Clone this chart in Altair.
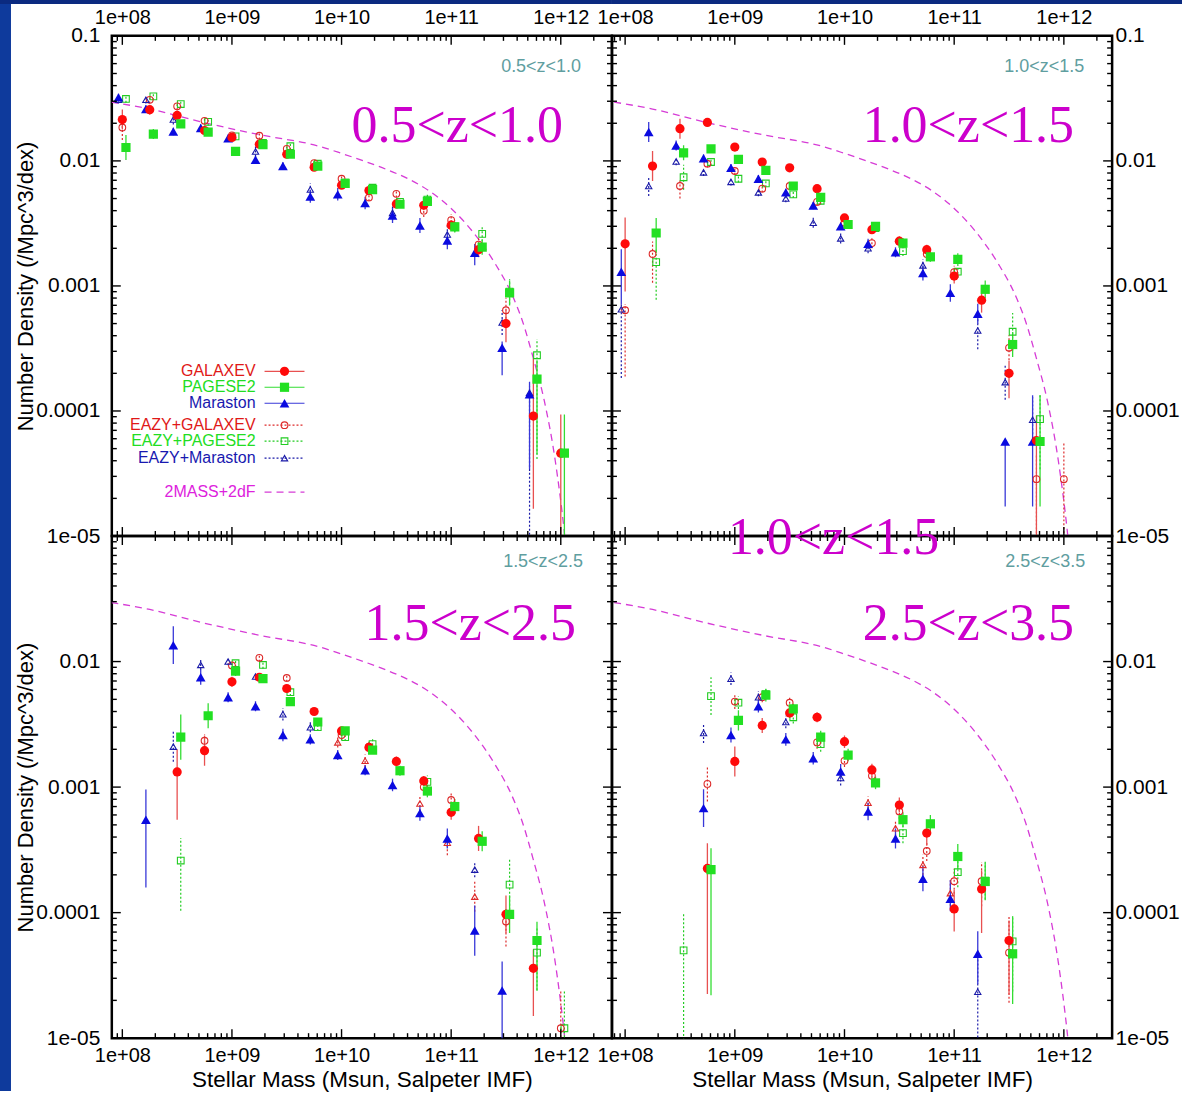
import altair as alt
import pandas as pd

# ---------------------------------------------------------------- data
# 2MASS+2dF local stellar mass function (dashed curve)
smf_logm = [7.90, 8.25, 8.70, 9.25, 9.80, 10.00, 10.20, 10.40, 10.60, 10.80, 11.00, 11.20,
            11.40, 11.55, 11.65, 11.75, 11.85, 11.95, 12.03, 12.07]
smf_logphi = [-1.530, -1.585, -1.684, -1.790, -1.884, -1.940, -2.000, -2.065, -2.140, -2.240,
              -2.380, -2.570, -2.820, -3.060, -3.280, -3.580, -3.920, -4.400, -4.950, -5.300]

# each entry: (log10 M bin, number density, error down [dex], error up [dex])
# ---- 0.5<z<1.0
tl_galaxev = [(8.00, 0.0214, .08, .08), (8.25, 0.0257, .04, .04), (8.50, 0.0231, .04, .04),
              (8.75, 0.0175, .04, .04), (9.00, 0.0154, .03, .03), (9.25, 0.0136, .03, .03),
              (9.50, 0.0113, .03, .03), (9.75, 0.0089, .03, .03), (10.00, 0.0064, .03, .03),
              (10.25, 0.0058, .03, .03), (10.50, 0.00453, .03, .03), (10.75, 0.00442, .04, .04),
              (11.00, 0.00306, .04, .04), (11.25, 0.00195, .06, .06), (11.50, 0.00050, .15, .11),
              (11.75, 0.000091, .74, .46), (12.00, 0.000046, 1.2, .31)]
tl_pegase = [(8.00, 0.0128, .10, .10), (8.25, 0.0164, .04, .04), (8.50, 0.0198, .03, .03),
             (8.75, 0.0170, .03, .03), (9.00, 0.0119, .03, .03), (9.25, 0.0135, .03, .03),
             (9.50, 0.0113, .03, .03), (9.75, 0.0091, .03, .03), (10.00, 0.0066, .03, .03),
             (10.25, 0.0059, .03, .03), (10.50, 0.0045, .03, .03), (10.75, 0.00475, .04, .04),
             (11.00, 0.00297, .04, .04), (11.25, 0.00204, .06, .06), (11.50, 0.00088, .10, .10),
             (11.75, 0.00018, .60, .15), (12.00, 0.000046, 1.2, .31)]
tl_maraston = [(8.00, 0.0322, .03, .03), (8.25, 0.0260, .03, .03), (8.50, 0.0172, .03, .03),
               (8.75, 0.0183, .03, .03), (9.00, 0.0152, .03, .03), (9.25, 0.0102, .03, .03),
               (9.50, 0.0091, .03, .03), (9.75, 0.0052, .05, .05), (10.00, 0.0054, .05, .05),
               (10.25, 0.0046, .05, .05), (10.50, 0.00366, .06, .06), (10.75, 0.00304, .06, .06),
               (11.00, 0.00231, .07, .07), (11.25, 0.00184, .10, .07), (11.50, 0.00032, .22, .05),
               (11.75, 0.000136, .60, .10)]
tl_eazy_galaxev = [(8.00, 0.0185, .10, .05), (8.25, 0.0308, .03, .03), (8.50, 0.0273, .03, .03),
                   (8.75, 0.0209, .03, .03), (9.00, 0.0160, .03, .03), (9.25, 0.0159, .03, .03),
                   (9.50, 0.0125, .03, .03), (9.75, 0.0096, .03, .03), (10.00, 0.0072, .03, .03),
                   (10.25, 0.0051, .03, .03), (10.50, 0.00545, .03, .03), (10.75, 0.0040, .05, .05),
                   (11.00, 0.00336, .05, .05), (11.25, 0.00214, .06, .06), (11.50, 0.00064, .10, .10)]
tl_eazy_pegase = [(8.00, 0.0313, .03, .03), (8.25, 0.0328, .03, .03), (8.50, 0.0285, .03, .03),
                  (8.75, 0.0205, .03, .03), (9.00, 0.0157, .03, .03), (9.25, 0.0139, .03, .03),
                  (9.50, 0.0131, .03, .03), (9.75, 0.0095, .03, .03), (10.00, 0.0067, .03, .03),
                  (10.25, 0.0061, .03, .03), (10.50, 0.0047, .03, .03), (10.75, 0.0049, .04, .04),
                  (11.00, 0.0030, .05, .05), (11.25, 0.00261, .06, .06), (11.50, 0.0009, .10, .10),
                  (11.75, 0.000279, .83, .13)]
tl_eazy_maraston = [(8.00, 0.0308, .03, .03), (8.25, 0.0308, .03, .03), (8.50, 0.0214, .04, .04),
                    (9.25, 0.0119, .04, .04), (9.75, 0.0059, .05, .05), (10.50, 0.00384, .06, .06),
                    (11.00, 0.00258, .07, .07), (11.50, 0.00051, .10, .10), (11.75, 0.00014, 1.2, .05)]
tl_eazy_red_tri = []

# ---- 1.0<z<1.5
tr_galaxev = [(8.00, 0.00217, .38, .21), (8.25, 0.0091, .12, .12), (8.50, 0.0181, .08, .08),
              (8.75, 0.0203, .03, .03), (9.00, 0.0129, .03, .03), (9.25, 0.0098, .03, .03),
              (9.50, 0.0088, .03, .03), (9.75, 0.0060, .03, .03), (10.00, 0.0035, .03, .03),
              (10.25, 0.00282, .03, .03), (10.50, 0.00228, .04, .04), (10.75, 0.00195, .04, .04),
              (11.00, 0.0012, .06, .06), (11.25, 0.00077, .10, .10), (11.50, 0.0002, .20, .10),
              (11.75, 0.000058, .76, .20)]
tr_pegase = [(8.25, 0.00265, .16, .12), (8.50, 0.0116, .06, .06), (8.75, 0.0125, .03, .03),
             (9.00, 0.0103, .03, .03), (9.25, 0.0084, .03, .03), (9.50, 0.0063, .03, .03),
             (9.75, 0.0051, .03, .03), (10.00, 0.0031, .03, .03), (10.25, 0.0030, .03, .03),
             (10.50, 0.0022, .04, .04), (10.75, 0.00171, .04, .04), (11.00, 0.00163, .05, .05),
             (11.25, 0.00094, .07, .07), (11.50, 0.00034, .10, .10), (11.75, 0.000057, .52, .37)]
tr_maraston = [(8.00, 0.0013, .26, .18), (8.25, 0.0170, .08, .08), (8.50, 0.0133, .04, .04),
               (8.75, 0.0105, .03, .03), (9.00, 0.0088, .03, .03), (9.25, 0.0072, .03, .03),
               (9.50, 0.0056, .03, .03), (9.75, 0.0044, .03, .03), (10.00, 0.0030, .03, .03),
               (10.25, 0.00217, .04, .04), (10.50, 0.00186, .04, .04), (10.75, 0.00127, .06, .06),
               (11.00, 0.00088, .07, .07), (11.25, 0.0006, .08, .08), (11.50, 0.000057, .52, .0),
               (11.75, 0.000057, .52, .37)]
tr_eazy_galaxev = [(8.00, 0.00064, .53, .05), (8.25, 0.0018, .23, .10), (8.50, 0.0063, .10, .05),
                   (8.75, 0.0095, .03, .03), (9.00, 0.0083, .03, .03), (9.25, 0.0060, .03, .03),
                   (9.50, 0.0063, .03, .03), (9.75, 0.0047, .03, .03), (10.00, 0.0032, .03, .03),
                   (10.25, 0.0022, .04, .04), (10.75, 0.0018, .04, .04), (11.00, 0.00129, .05, .05),
                   (11.50, 0.00032, .10, .10), (11.75, 0.0000285, 1.2, .20), (12.00, 0.0000285, 1.2, .30)]
tr_eazy_pegase = [(8.25, 0.00155, .30, .10), (8.50, 0.0074, .10, .10), (8.75, 0.0098, .03, .03),
                  (9.00, 0.0072, .03, .03), (9.25, 0.0066, .03, .03), (9.50, 0.0054, .03, .03),
                  (9.75, 0.0048, .03, .03), (10.25, 0.0029, .03, .03), (10.50, 0.0019, .04, .04),
                  (11.00, 0.0013, .05, .05), (11.50, 0.00043, .15, .15), (11.75, 0.000086, .40, .20)]
tr_eazy_maraston = [(8.00, 0.00065, .55, .05), (8.25, 0.0063, .08, .08), (8.50, 0.0099, .03, .03),
                    (8.75, 0.0081, .03, .03), (9.00, 0.0068, .03, .03), (9.25, 0.0056, .03, .03),
                    (9.50, 0.0050, .03, .03), (9.75, 0.0032, .04, .04), (10.00, 0.0024, .04, .04),
                    (10.25, 0.0020, .04, .04), (10.75, 0.00146, .05, .05), (11.25, 0.00044, .15, .10),
                    (11.50, 0.00017, .14, .14), (11.75, 0.000085, .18, .18)]
tr_eazy_red_tri = []

# ---- 1.5<z<2.5
bl_galaxev = [(8.50, 0.00132, .38, .18), (8.75, 0.00195, .12, .12), (9.00, 0.0069, .04, .04),
              (9.25, 0.0075, .03, .03), (9.50, 0.0061, .03, .03), (9.75, 0.0040, .03, .03),
              (10.00, 0.0028, .03, .03), (10.25, 0.00207, .03, .03), (10.50, 0.0016, .04, .04),
              (10.75, 0.00112, .04, .04), (11.00, 0.00063, .06, .06), (11.25, 0.00039, .10, .10),
              (11.50, 0.000097, .15, .15), (11.75, 0.000036, .38, .15)]
bl_pegase = [(8.50, 0.0025, .18, .18), (8.75, 0.0037, .10, .10), (9.00, 0.0084, .04, .04),
             (9.25, 0.0073, .03, .03), (9.50, 0.0048, .03, .03), (9.75, 0.0033, .03, .03),
             (10.00, 0.0028, .03, .03), (10.25, 0.00197, .03, .03), (10.50, 0.00135, .04, .04),
             (10.75, 0.00093, .05, .05), (11.00, 0.0007, .06, .06), (11.25, 0.00037, .08, .08),
             (11.50, 0.000097, .15, .15), (11.75, 0.00006, .40, .15)]
bl_maraston = [(8.25, 0.00055, .54, .24), (8.50, 0.0135, .15, .15), (8.75, 0.0075, .06, .06),
               (9.00, 0.0052, .04, .04), (9.25, 0.0044, .04, .04), (9.50, 0.0026, .05, .05),
               (9.75, 0.0024, .04, .04), (10.00, 0.0018, .04, .04), (10.25, 0.00136, .04, .04),
               (10.50, 0.00104, .05, .05), (10.75, 0.00062, .06, .06), (11.00, 0.00039, .08, .08),
               (11.25, 0.000072, .20, .20), (11.50, 0.000024, 1.0, .23)]
bl_eazy_galaxev = [(8.75, 0.00234, .05, .05), (9.00, 0.0093, .03, .03), (9.25, 0.0107, .03, .03),
                   (9.50, 0.0074, .03, .03), (10.00, 0.0026, .04, .04), (10.25, 0.0021, .04, .04),
                   (10.75, 0.0010, .05, .05), (11.00, 0.00079, .06, .06), (11.50, 0.000085, .20, .10),
                   (12.00, 0.000012, .20, .30)]
bl_eazy_pegase = [(8.50, 0.00026, .40, .18), (9.00, 0.0097, .03, .03), (9.25, 0.0094, .03, .03),
                  (9.50, 0.0057, .03, .03), (9.75, 0.0030, .03, .03), (10.00, 0.0025, .03, .03),
                  (10.25, 0.0022, .04, .04), (10.75, 0.0011, .05, .05), (11.50, 0.000167, .20, .20),
                  (11.75, 0.000048, .30, .20), (12.00, 0.000012, .20, .30)]
bl_eazy_maraston = [(8.50, 0.0021, .12, .12), (8.75, 0.0094, .04, .04), (9.00, 0.0100, .03, .03),
                    (9.25, 0.0076, .03, .03), (9.50, 0.0038, .05, .05), (9.75, 0.0030, .04, .04),
                    (11.25, 0.00022, .06, .06)]
bl_eazy_red_tri = [(10.00, 0.00227, .04, .04), (10.25, 0.00162, .05, .05), (10.75, 0.00074, .06, .06),
                   (11.00, 0.00036, .10, .06), (11.25, 0.000134, .12, .12)]

# ---- 2.5<z<3.5
br_galaxev = [(8.75, 0.000225, 1.0, .20), (9.00, 0.0016, .12, .12), (9.25, 0.0031, .06, .06),
              (9.50, 0.0039, .04, .04), (9.75, 0.0036, .04, .04), (10.00, 0.0023, .05, .05),
              (10.25, 0.00137, .05, .05), (10.50, 0.00072, .06, .06), (10.75, 0.00043, .10, .10),
              (11.00, 0.000107, .18, .15), (11.25, 0.000154, .35, .15), (11.50, 0.00006, .43, .16)]
br_pegase = [(8.75, 0.00022, 1.0, .17), (9.00, 0.0034, .08, .08), (9.25, 0.0054, .05, .05),
             (9.50, 0.0042, .04, .04), (9.75, 0.0025, .05, .05), (10.00, 0.0018, .05, .05),
             (10.25, 0.00108, .05, .05), (10.50, 0.00055, .06, .06), (10.75, 0.00051, .07, .07),
             (11.00, 0.00028, .10, .10), (11.25, 0.000177, .15, .15), (11.50, 0.000047, .40, .30)]
br_maraston = [(8.75, 0.00068, .15, .15), (9.00, 0.0026, .06, .06), (9.25, 0.0044, .05, .05),
               (9.50, 0.0024, .05, .05), (9.75, 0.0017, .05, .05), (10.00, 0.00133, .06, .06),
               (10.25, 0.00064, .07, .07), (10.50, 0.00039, .08, .08), (10.75, 0.000186, .10, .10),
               (11.00, 0.000129, .10, .15), (11.25, 0.000047, .24, .18)]
br_eazy_galaxev = [(8.75, 0.00106, .14, .14), (9.00, 0.0048, .06, .06), (9.25, 0.0052, .04, .04),
                   (9.50, 0.0047, .04, .04), (9.75, 0.00227, .05, .05), (10.00, 0.00162, .05, .05),
                   (10.25, 0.00123, .05, .05), (10.50, 0.00064, .06, .06), (10.75, 0.00031, .08, .08),
                   (11.00, 0.000178, .10, .10), (11.25, 0.000178, .20, .15), (11.50, 0.000048, .40, .30)]
br_eazy_pegase = [(8.50, 0.00005, 1.0, .30), (8.75, 0.0053, .15, .15), (9.00, 0.0047, .05, .05),
                  (9.25, 0.0055, .04, .04), (9.50, 0.0036, .05, .05), (9.75, 0.0022, .06, .06),
                  (10.50, 0.00043, .08, .08), (11.00, 0.00021, .12, .12), (11.25, 0.00018, .15, .15),
                  (11.50, 0.000059, .40, .20)]
br_eazy_maraston = [(8.75, 0.0027, .08, .08), (9.00, 0.0073, .05, .05), (9.25, 0.0052, .05, .05),
                    (9.50, 0.0033, .05, .05), (10.00, 0.00118, .06, .06), (11.25, 0.0000234, 1.0, .30)]
br_eazy_red_tri = [(10.25, 0.00075, .05, .05), (10.50, 0.00047, .06, .06), (10.75, 0.00024, .08, .08),
                   (11.00, 0.000143, .10, .10)]

PANEL_DATA = {
    "tl": [tl_galaxev, tl_pegase, tl_maraston, tl_eazy_galaxev, tl_eazy_pegase, tl_eazy_maraston, tl_eazy_red_tri],
    "tr": [tr_galaxev, tr_pegase, tr_maraston, tr_eazy_galaxev, tr_eazy_pegase, tr_eazy_maraston, tr_eazy_red_tri],
    "bl": [bl_galaxev, bl_pegase, bl_maraston, bl_eazy_galaxev, bl_eazy_pegase, bl_eazy_maraston, bl_eazy_red_tri],
    "br": [br_galaxev, br_pegase, br_maraston, br_eazy_galaxev, br_eazy_pegase, br_eazy_maraston, br_eazy_red_tri],
}
PANEL_LABEL = {"tl": "0.5<z<1.0", "tr": "1.0<z<1.5", "bl": "1.5<z<2.5", "br": "2.5<z<3.5"}
SERIES = ["GALAXEV", "PAGESE2", "Maraston", "EAZY+GALAXEV", "EAZY+PAGESE2", "EAZY+Maraston", "EAZY tri"]
LEGEND_LABELS = ["GALAXEV", "PAGESE2", "Maraston", "EAZY+GALAXEV", "EAZY+PAGESE2", "EAZY+Maraston", "2MASS+2dF"]

X_MAJOR = [1e8, 1e9, 1e10, 1e11, 1e12]
Y_MAJOR = [1e-5, 1e-4, 1e-3, 1e-2, 1e-1]
MINOR_FACTORS = [2, 3, 4, 5, 6, 7, 8, 9]

# ---------------------------------------------------------------- style
SANS = "Liberation Sans"
SERIF = "Liberation Serif"
RED, GREEN, BLUE = "#ff0a0a", "#22e022", "#0a0ae0"
MAG = "#cc00cc"
CURVE = "#d63cd6"
TEAL = "#5f9ea0"
NAVY_TOP = "#0b2a80"
NAVY_LEFT = "#0e3a9c"
STYLE = {
    "GALAXEV":       dict(color=RED, bar="#e85050", shape="circle", filled=True, size=85, dex=0.0, dash=False),
    "PAGESE2":       dict(color=GREEN, bar="#33dd33", shape="square", filled=True, size=85, dex=0.033, dash=False),
    "Maraston":      dict(color=BLUE, bar="#3838d8", shape="triangle-up", filled=True, size=95, dex=-0.035, dash=False),
    "EAZY+GALAXEV":  dict(color="#dd2a2a", bar="#dd2a2a", shape="circle", filled=False, size=45, dex=0.0, dash=True),
    "EAZY+PAGESE2":  dict(color="#22cc22", bar="#22cc22", shape="square", filled=False, size=45, dex=0.033, dash=True),
    "EAZY+Maraston": dict(color="#1a1aa8", bar="#1a1aa8", shape="triangle-up", filled=False, size=40, dex=-0.035, dash=True),
    "EAZY tri":      dict(color="#dd2a2a", bar="#dd2a2a", shape="triangle-up", filled=False, size=40, dex=-0.035, dash=True),
}
LEGEND_TEXT_COLOR = ["#e01818", "#22dd22", "#1818b0", "#e01818", "#22dd22", "#1818b0", "#dd22dd"]
DRAW_ORDER = ["EAZY+PAGESE2", "EAZY+GALAXEV", "EAZY+Maraston", "EAZY tri", "Maraston", "GALAXEV", "PAGESE2"]

W = 501
XLBL = "'1e+' + (round(log(datum.value)/LN10) < 10 ? '0' : '') + round(log(datum.value)/LN10)"
YLBL = ("datum.value < 5e-5 ? '1e-05' : datum.value < 5e-4 ? '0.0001' : "
        "datum.value < 5e-3 ? '0.001' : datum.value < 5e-2 ? '0.01' : '0.1'")


def panel_frame(key):
    rows = []
    for name in DRAW_ORDER:
        st = STYLE[name]
        for (lm, v, dn, up) in PANEL_DATA[key][SERIES.index(name)]:
            rows.append(dict(series=name, mass=10 ** (lm + st["dex"]), val=v,
                             lo=v * 10 ** (-dn), hi=v * 10 ** up, color=st["color"], bar=st["bar"],
                             shape=st["shape"], size=st["size"], filled=st["filled"], dash=st["dash"]))
    return pd.DataFrame(rows)


def strip(x0, x1, y0, y1, color):
    return (alt.Chart(pd.DataFrame({"s": [0]})).mark_rect(color=color)
            .encode(x=alt.value(x0), x2=alt.value(x1), y=alt.value(y0), y2=alt.value(y1)))


def build_panel(key, xdom, top_row, left_col, H):
    xs = alt.Scale(type="log", domain=xdom, nice=False)
    ys = alt.Scale(type="log", domain=[1e-5, 0.1], nice=False)
    xa = dict(orient="top" if top_row else "bottom", values=X_MAJOR, labelExpr=XLBL, ticks=False,
              domain=False, grid=False, labelFontSize=20, labelFont=SANS, labelColor="black",
              labelPadding=8 if top_row else 7, labelOverlap=False, labelFlush=False, labelBound=False)
    if top_row:
        xa["title"] = ""
    else:
        xa.update(title="Stellar Mass (Msun,  Salpeter IMF)", titleFont=SANS, titleFontSize=22.5,
                  titleFontWeight="normal", titleColor="black", titlePadding=3)
    ya = dict(orient="left" if left_col else "right", values=Y_MAJOR if top_row else Y_MAJOR[:-1],
              labelExpr=YLBL, ticks=False, domain=False, grid=False, labelFontSize=21, labelFont=SANS,
              labelColor="black", labelPadding=12 if left_col else 3, labelOverlap=False,
              labelFlush=False, labelBound=False)
    if left_col:
        ya.update(title="Number Density (/Mpc^3/dex)", titleFont=SANS, titleFontSize=22,
                  titleFontWeight="normal", titleColor="black", titleX=-86, titleY=H / 2,
                  titleAngle=270, titleBaseline="middle", titleAlign="center")
    else:
        ya["title"] = ""
    xaxis = alt.Axis(**xa)
    yaxis = alt.Axis(**ya)

    def X(f):
        return alt.X(f, type="quantitative", scale=xs, axis=xaxis)

    def Y(f):
        return alt.Y(f, type="quantitative", scale=ys, axis=yaxis)

    layers = []
    # page decoration: dark-blue slide border on the left and top
    if key == "tl":
        layers.append(strip(-112, -101, -36, H, NAVY_LEFT))
        layers.append(strip(-112, W, -36, -32, NAVY_TOP))
    elif key == "tr":
        layers.append(strip(0, 571, -36, -32, NAVY_TOP))
    elif key == "bl":
        layers.append(strip(-112, -101, 0, 556, NAVY_LEFT))

    cdf = pd.DataFrame({"m": [10 ** v for v in smf_logm], "phi": [10 ** v for v in smf_logphi]})
    layers.append(alt.Chart(cdf).mark_line(color=CURVE, strokeDash=[7, 5], strokeWidth=1.3, clip=True,
                                           interpolate="monotone")
                  .encode(x=X("m"), y=Y("phi")))

    df = panel_frame(key)
    solid = df[~df["dash"]]
    dotted = df[df["dash"]]
    layers.append(alt.Chart(dotted).mark_rule(strokeWidth=1.2, strokeDash=[2, 2], clip=True)
                  .encode(x=X("mass"), y=Y("lo"), y2="hi", color=alt.Color("bar:N", scale=None)))
    layers.append(alt.Chart(solid).mark_rule(strokeWidth=1.3, clip=True)
                  .encode(x=X("mass"), y=Y("lo"), y2="hi", color=alt.Color("bar:N", scale=None)))
    layers.append(alt.Chart(df[~df["filled"]]).mark_point(filled=False, strokeWidth=1.1, opacity=1, clip=True)
                  .encode(x=X("mass"), y=Y("val"), color=alt.Color("color:N", scale=None),
                          shape=alt.Shape("shape:N", scale=None), size=alt.Size("size:Q", scale=None)))
    layers.append(alt.Chart(df[df["filled"]]).mark_point(filled=True, opacity=1, clip=True)
                  .encode(x=X("mass"), y=Y("val"), color=alt.Color("color:N", scale=None),
                          shape=alt.Shape("shape:N", scale=None), size=alt.Size("size:Q", scale=None)))

    # inward tick marks on all four sides
    x_minor = [f * 10 ** e for e in range(7, 13) for f in MINOR_FACTORS if xdom[0] < f * 10 ** e < xdom[1]]
    y_minor = [f * 10 ** e for e in range(-5, -1) for f in MINOR_FACTORS]
    for vals, ln in [(X_MAJOR, 9), (x_minor, 5)]:
        tdf = pd.DataFrame({"v": vals})
        base = alt.Chart(tdf).mark_rule(color="black", strokeWidth=1.4)
        layers.append(base.encode(x=X("v"), y=alt.value(0), y2=alt.value(ln)))
        layers.append(base.encode(x=X("v"), y=alt.value(H), y2=alt.value(H - ln)))
    for vals, ln in [(Y_MAJOR, 9), (y_minor, 5)]:
        tdf = pd.DataFrame({"v": vals})
        base = alt.Chart(tdf).mark_rule(color="black", strokeWidth=1.4)
        layers.append(base.encode(y=Y("v"), x=alt.value(0), x2=alt.value(ln)))
        layers.append(base.encode(y=Y("v"), x=alt.value(W), x2=alt.value(W - ln)))

    # labels
    big_pos = {"tl": (346, 106), "tr": (357, 106), "bl": (359, 104), "br": (357, 104)}
    small_pos = {"tl": (430, 36), "tr": (433, 36), "bl": (432, 31), "br": (434, 31)}
    lab = pd.DataFrame({"t": [PANEL_LABEL[key]]})
    bx, by = big_pos[key]
    layers.append(alt.Chart(lab).mark_text(font=SERIF, fontSize=52, color=MAG, align="center",
                                           baseline="alphabetic")
                  .encode(text="t:N", x=alt.value(bx), y=alt.value(by)))
    sx, sy = small_pos[key]
    layers.append(alt.Chart(lab).mark_text(font=SANS, fontSize=18, color=TEAL, align="center",
                                           baseline="alphabetic")
                  .encode(text="t:N", x=alt.value(sx), y=alt.value(sy)))
    if key == "br":
        extra = pd.DataFrame({"t": [PANEL_LABEL["tr"]]})
        layers.append(alt.Chart(extra).mark_text(font=SERIF, fontSize=52, color=MAG, align="center",
                                                 baseline="alphabetic")
                      .encode(text="t:N", x=alt.value(222), y=alt.value(18)))

    # legend (top-left panel only)
    if key == "tl":
        row_y = [336, 352, 368, 390, 406, 423, 457]
        for i, lbl in enumerate(LEGEND_LABELS):
            ld = pd.DataFrame({"t": [lbl]})
            y = row_y[i]
            layers.append(alt.Chart(ld).mark_text(font=SANS, fontSize=16, color=LEGEND_TEXT_COLOR[i],
                                                  align="right", baseline="middle")
                          .encode(text="t:N", x=alt.value(144), y=alt.value(y)))
            if i < 6:
                st = STYLE[SERIES[i]]
                rule_kw = dict(color=st["bar"], strokeWidth=1.2)
                if st["dash"]:
                    rule_kw["strokeDash"] = [2, 2]
                layers.append(alt.Chart(ld).mark_rule(**rule_kw)
                              .encode(x=alt.value(153), x2=alt.value(193), y=alt.value(y)))
                layers.append(alt.Chart(ld).mark_point(shape=st["shape"], filled=st["filled"], size=st["size"],
                                                       color=st["color"], opacity=1, strokeWidth=1.1)
                              .encode(x=alt.value(173), y=alt.value(y)))
            else:
                layers.append(alt.Chart(ld).mark_rule(color=CURVE, strokeWidth=1.3, strokeDash=[7, 5])
                              .encode(x=alt.value(153), x2=alt.value(193), y=alt.value(y)))

    return alt.layer(*layers).properties(width=W, height=H)


XDOM_L = [10 ** 7.904, 10 ** 12.467]
XDOM_R = [10 ** 7.880, 10 ** 12.440]

tl = build_panel("tl", XDOM_L, True, True, 501)
tr = build_panel("tr", XDOM_R, True, False, 501)
bl = build_panel("bl", XDOM_L, False, True, 503)
br = build_panel("br", XDOM_R, False, False, 503)

chart = (alt.concat(tl, tr, bl, br, columns=2, spacing=0, bounds="flush")
         .properties(padding={"left": -2, "top": -3, "right": 0, "bottom": 0}, background="white")
         .configure_view(stroke="black", strokeWidth=2.5))

chart.save("out.html", embed_options={"renderer": "svg", "actions": False})
